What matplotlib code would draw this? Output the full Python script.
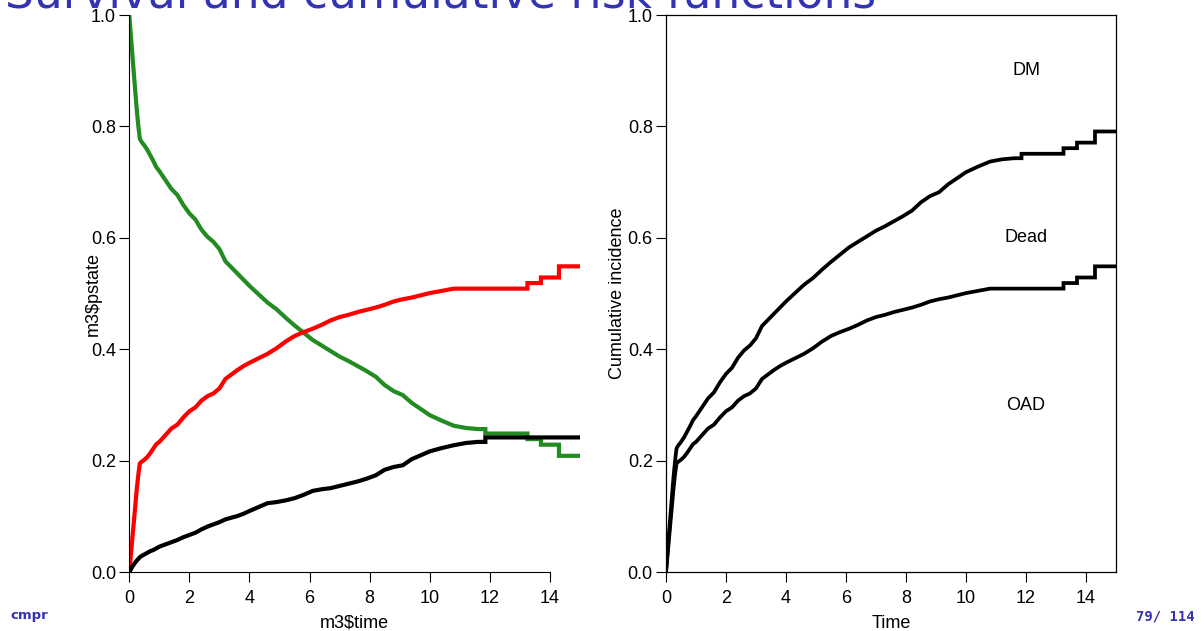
import matplotlib
matplotlib.use("Agg")
import matplotlib.pyplot as plt
import numpy as np

# ---- data ----
time = [0, 0.05, 0.1, 0.15, 0.2, 0.25, 0.3, 0.35, 0.4, 0.5, 0.6, 0.7, 0.8, 0.9, 1.0,
        1.2, 1.4, 1.6, 1.8, 2.0, 2.2, 2.4, 2.6, 2.8, 3.0, 3.2, 3.4, 3.6, 3.8, 4.0,
        4.3, 4.6, 4.9, 5.2, 5.5, 5.8, 6.1, 6.4, 6.7, 7.0, 7.3, 7.6, 7.9, 8.2, 8.5,
        8.8, 9.1, 9.4, 9.7, 10.0, 10.4, 10.8, 11.2, 11.6, 11.85, 11.85, 13.25, 13.25,
        13.7, 13.7, 14.3, 14.3, 15.0]

p_alive = [1.0, 0.965, 0.93, 0.896, 0.862, 0.829, 0.801, 0.778, 0.773, 0.766, 0.758, 0.748,
           0.738, 0.727, 0.72, 0.704, 0.688, 0.677, 0.659, 0.644, 0.633, 0.615, 0.602, 0.593,
           0.58, 0.558, 0.547, 0.536, 0.525, 0.514, 0.499, 0.484, 0.472, 0.457, 0.443, 0.43,
           0.417, 0.407, 0.397, 0.387, 0.379, 0.37, 0.361, 0.351, 0.336, 0.325, 0.318, 0.304,
           0.293, 0.282, 0.272, 0.263, 0.259, 0.257, 0.257, 0.249, 0.249, 0.239,
           0.239, 0.229, 0.229, 0.209, 0.209]

p_oad = [0, 0.03, 0.06, 0.09, 0.12, 0.15, 0.175, 0.195, 0.198, 0.202, 0.207, 0.214, 0.222,
         0.23, 0.234, 0.246, 0.258, 0.265, 0.278, 0.289, 0.296, 0.308, 0.316, 0.321, 0.33,
         0.347, 0.355, 0.363, 0.37, 0.376, 0.384, 0.392, 0.402, 0.414, 0.424, 0.431, 0.437,
         0.444, 0.452, 0.458, 0.462, 0.467, 0.471, 0.475, 0.48, 0.486, 0.49, 0.493, 0.497,
         0.501, 0.505, 0.509, 0.509, 0.509, 0.509, 0.509, 0.509, 0.519,
         0.519, 0.529, 0.529, 0.549, 0.549]

p_dead = [0, 0.005, 0.01, 0.014, 0.018, 0.021, 0.024, 0.027, 0.029, 0.032, 0.035, 0.038, 0.04,
          0.043, 0.046, 0.05, 0.054, 0.058, 0.063, 0.067, 0.071, 0.077, 0.082, 0.086, 0.09,
          0.095, 0.098, 0.101, 0.105, 0.11, 0.117, 0.124, 0.126, 0.129, 0.133, 0.139, 0.146,
          0.149, 0.151, 0.155, 0.159, 0.163, 0.168, 0.174, 0.184, 0.189, 0.192, 0.203, 0.21,
          0.217, 0.223, 0.228, 0.232, 0.234, 0.234, 0.242, 0.242, 0.242,
          0.242, 0.242, 0.242, 0.242, 0.242]

state_labels = ["DM", "Dead", "OAD"]
state_label_y = [0.9, 0.6, 0.3]
state_label_x = 12

x_ticks = [0, 2, 4, 6, 8, 10, 12, 14]
y_ticks = [0.0, 0.2, 0.4, 0.6, 0.8, 1.0]

title = "Survival and cumulative risk functions"
footer_left = "cmpr"
footer_right = "79/ 114"

# ---- figure ----
W, H = 1204, 631
fig = plt.figure(figsize=(W / 100, H / 100), dpi=100)
plt.rcParams['font.family'] = ['Liberation Sans', 'DejaVu Sans']

def frac(x0, y0, x1, y1):
    return [x0 / W, 1 - y1 / H, (x1 - x0) / W, (y1 - y0) / H]

axL = fig.add_axes(frac(129.3, 15, 580, 572.3))
axR = fig.add_axes(frac(666, 15, 1116, 572.3))

LW = 3.0
axL.plot(time, p_alive, color="#228B22", lw=LW, solid_joinstyle="miter")
axL.plot(time, p_oad, color="#FF0000", lw=LW, solid_joinstyle="miter")
axL.plot(time, p_dead, color="black", lw=LW, solid_joinstyle="miter")

cum_lower = np.array(p_oad)
cum_upper = cum_lower + np.array(p_dead)
axR.plot(time, cum_lower, color="black", lw=2.7, solid_joinstyle="miter")
axR.plot(time, cum_upper, color="black", lw=2.7, solid_joinstyle="miter")
for lab, yy in zip(state_labels, state_label_y):
    axR.text(state_label_x, yy, lab, ha="center", va="center", fontsize=13)

for ax in (axL, axR):
    ax.set_xlim(0, 15)
    ax.set_ylim(0, 1)
    ax.set_xticks(x_ticks)
    ax.set_yticks(y_ticks)
    ax.set_yticklabels([f"{v:.1f}" for v in y_ticks])
    ax.tick_params(direction="out", length=7.5, width=0.8, labelsize=13, colors="black")
    ax.tick_params(axis="y", pad=2)
    ax.tick_params(axis="x", pad=5)

axL.spines["top"].set_visible(False)
axL.spines["right"].set_visible(False)
axL.spines["bottom"].set_bounds(0, 14)
for s in axL.spines.values():
    s.set_linewidth(0.8)
for s in axR.spines.values():
    s.set_linewidth(0.9)

axL.set_xlabel("m3$time", fontsize=13, parse_math=False)
axL.set_ylabel("m3$pstate", fontsize=13, parse_math=False)
axR.set_xlabel("Time", fontsize=13)
axR.set_ylabel("Cumulative incidence", fontsize=13)

axL.xaxis.set_label_coords(0.5, (572.3 - 623) / 557.3)
axR.xaxis.set_label_coords(0.5, (572.3 - 623) / 557.3)
axL.xaxis.label.set_va("center")
axR.xaxis.label.set_va("center")
axL.yaxis.set_label_coords((93 - 129.3) / 450.7, 0.5)
axR.yaxis.set_label_coords((617 - 666) / 450, 0.5)
axL.yaxis.label.set_va("center")
axR.yaxis.label.set_va("center")

blue = "#3333B3"
t = fig.text(5 / W, 1 - 7.5 / H, title, color=blue, fontsize=30, ha="left", va="baseline",
             family="DejaVu Sans")
# scale title to match reference width (~870 px)
fig.canvas.draw()
bb = t.get_window_extent()
t.set_fontsize(30 * 870 / bb.width)

fig.text(10 / W, 1 - 616 / H, footer_left, color=blue, fontsize=9.5, fontweight="bold",
         ha="left", va="center", family="DejaVu Sans")
fig.text(1195 / W, 1 - 616 / H, footer_right, color=blue, fontsize=10, fontweight="bold",
         ha="right", va="center", family="DejaVu Sans Mono")

fig.savefig("out.png", dpi=100)
